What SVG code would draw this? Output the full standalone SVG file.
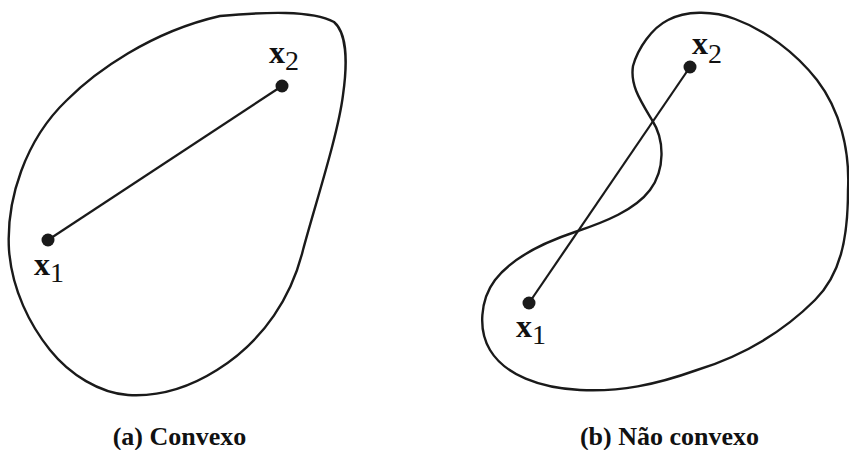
<svg xmlns="http://www.w3.org/2000/svg" width="849" height="450" viewBox="0 0 849 450">
<style>
.outline{fill:none;stroke:#1a1a1a;stroke-width:2.4;stroke-linejoin:round}
.seg{fill:none;stroke:#1a1a1a;stroke-width:2.2}
.dot{fill:#1a1a1a}
.lbl{font-family:"Liberation Serif","Times New Roman",serif;fill:#111}
.v{font-weight:bold;font-size:32px}
.s{font-weight:normal;font-size:28px}
.cap{font-family:"Liberation Serif","Times New Roman",serif;font-weight:bold;font-size:26px;fill:#111;text-anchor:middle}
</style>
<rect width="849" height="450" fill="#ffffff"/>
<g id="set-convex">
<path class="outline" d="M 220,16 C 265,12 312,10 334,22 C 346,32 348,60 343,95 C 338,135 315,205 303,250 C 292,295 265,340 217,370 C 190,387 160,397 128,395 C 100,393 70,375 50,350 C 30,325 12,290 9,250 C 6,200 25,140 67,100 C 95,72 150,32 220,16 Z"/>
</g>
<g id="set-nonconvex">
<path class="outline" d="M 633,66 C 638,48 652,28 668,20 C 685,11 712,10 735,19 C 765,30 795,52 817,80 C 840,110 850,150 848,190 C 848,240 840,275 815,300 C 785,330 745,355 697,370 C 655,385 620,392 580,390 C 540,388 505,375 490,350 C 478,330 480,300 495,280 C 512,258 545,242 575,232 C 605,222 635,210 650,190 C 665,170 665,140 652,120 C 640,100 630,85 633,66 Z"/>
</g>
<g id="connectors">
<line class="seg" x1="48" y1="240" x2="282" y2="86"/>
<line class="seg" x1="529" y1="303" x2="690" y2="67"/>
</g>
<g id="a-x1">
<circle class="dot" cx="48" cy="240" r="6.5"/>
<text class="lbl" x="34" y="275"><tspan class="v">x</tspan><tspan class="s" dy="7">1</tspan></text>
</g>
<g id="a-x2">
<circle class="dot" cx="282" cy="86" r="6.5"/>
<text class="lbl" x="269" y="63"><tspan class="v">x</tspan><tspan class="s" dy="7">2</tspan></text>
</g>
<g id="b-x1">
<circle class="dot" cx="529" cy="303" r="6.5"/>
<text class="lbl" x="516" y="337"><tspan class="v">x</tspan><tspan class="s" dy="7">1</tspan></text>
</g>
<g id="b-x2">
<circle class="dot" cx="690" cy="67" r="6.5"/>
<text class="lbl" x="692" y="54"><tspan class="v">x</tspan><tspan class="s" dy="9">2</tspan></text>
</g>
<g id="captions">
<text class="cap" x="179.5" y="445">(a) Convexo</text>
<text class="cap" x="669.5" y="445">(b) Não convexo</text>
</g>
</svg>
